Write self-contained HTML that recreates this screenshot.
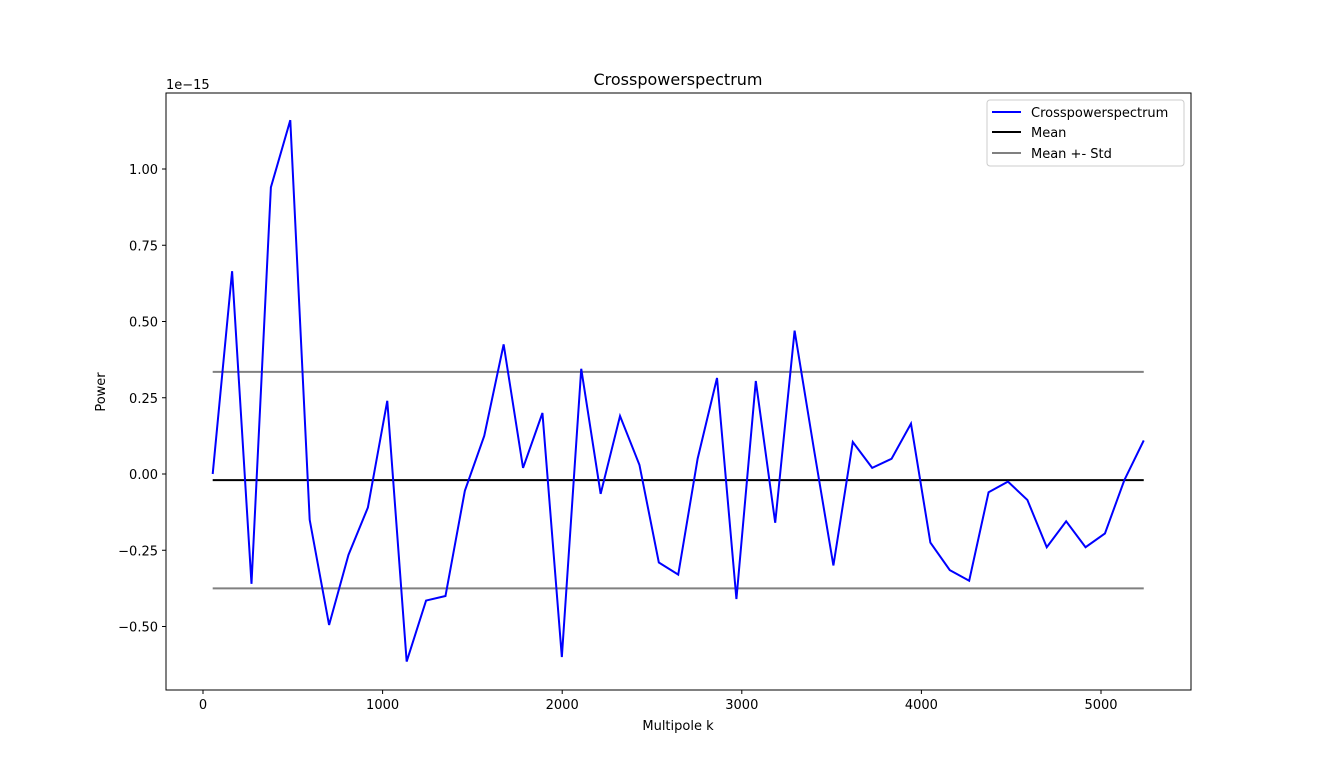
<!DOCTYPE html>
<html><head><meta charset="utf-8"><style>
body{margin:0;background:#fff;font-family:"Liberation Sans",sans-serif;}
svg text{font-family:"DejaVu Sans","Liberation Sans",sans-serif;}
</style></head><body>
<svg id="chart" width="1323" height="775" xmlns="http://www.w3.org/2000/svg">
<rect width="1323" height="775" fill="#fff"/>
<text x="678" y="85" font-size="16" text-anchor="middle">Crosspowerspectrum</text>
<text x="678" y="730" font-size="13" text-anchor="middle">Multipole k</text>
<text x="105" y="392" font-size="13" text-anchor="middle" transform="rotate(-90 105 392)">Power</text>
<text x="166" y="89" font-size="13">1e−15</text>
<g id="axes"></g>
<g id="series"></g>
<rect x="166" y="93" width="1025" height="597" fill="none" stroke="#000" stroke-width="1"/>
<g>
<rect x="987" y="100" width="197" height="66" fill="#fff" stroke="#ccc" rx="3"/>
<line x1="992" y1="112" x2="1021" y2="112" stroke="#0000ff" stroke-width="2"/>
<text x="1031" y="117" font-size="13">Crosspowerspectrum</text>
<line x1="992" y1="132" x2="1021" y2="132" stroke="#000" stroke-width="2"/>
<text x="1031" y="137" font-size="13">Mean</text>
<line x1="992" y1="153" x2="1021" y2="153" stroke="#808080" stroke-width="2"/>
<text x="1031" y="158" font-size="13">Mean +- Std</text>
</g>
</svg>
<script>
const kStart = 54, kStep = 108;
const powerValues = [0.00,0.665,-0.36,0.94,1.16,-0.15,-0.495,-0.265,-0.11,0.24,-0.615,-0.415,-0.40,-0.055,0.125,0.425,0.02,0.20,-0.60,0.345,-0.065,0.19,0.03,-0.29,-0.33,0.05,0.315,-0.41,0.305,-0.16,0.47,0.08,-0.30,0.105,0.02,0.05,0.165,-0.225,-0.315,-0.35,-0.06,-0.025,-0.085,-0.24,-0.155,-0.24,-0.195,-0.02,0.11];
const meanValue = -0.02;
const stdValue = 0.355;
const xTicks = [0,1000,2000,3000,4000,5000];
const yTicks = [-0.50,-0.25,0.00,0.25,0.50,0.75,1.00];
const NS="http://www.w3.org/2000/svg";
function xs(k){return 203 + k*(898/5000);}
function ys(v){return 474 - v*305;}
function mk(tag,attrs,parent){const e=document.createElementNS(NS,tag);for(const a in attrs)e.setAttribute(a,attrs[a]);parent.appendChild(e);return e;}
const axes=document.getElementById('axes'), series=document.getElementById('series');
xTicks.forEach(t=>{
  const l=mk('line',{x1:xs(t),x2:xs(t),y1:690,y2:694,stroke:'#000'},axes);
  
  
  const tx=mk('text',{x:xs(t),y:709,'font-size':13,'text-anchor':'middle'},axes);tx.textContent=t;
  
  
});
yTicks.forEach(t=>{
  const l=mk('line',{x1:162,x2:166,y1:ys(t),y2:ys(t),stroke:'#000'},axes);
  
  
  const tx=mk('text',{x:158,y:ys(t)+5,'font-size':13,'text-anchor':'end'},axes);tx.textContent=t.toFixed(2).replace('-','−');
  
  
});
const ks=powerValues.map((v,i)=>kStart+i*kStep);
const x0=xs(ks[0]), x1=xs(ks[ks.length-1]);
[[meanValue+stdValue,'#808080','std-upper-line'],[meanValue-stdValue,'#808080','std-lower-line'],[meanValue,'#000','mean-line']].forEach(([v,c,n])=>{
  const l=mk('line',{x1:x0,x2:x1,y1:ys(v),y2:ys(v),stroke:c,'stroke-width':2},series);
  
  
});
const p=mk('polyline',{points:powerValues.map((v,i)=>xs(ks[i])+','+ys(v)).join(' '),fill:'none',stroke:'#0000ff','stroke-width':2},series);


</script>
</body></html>
